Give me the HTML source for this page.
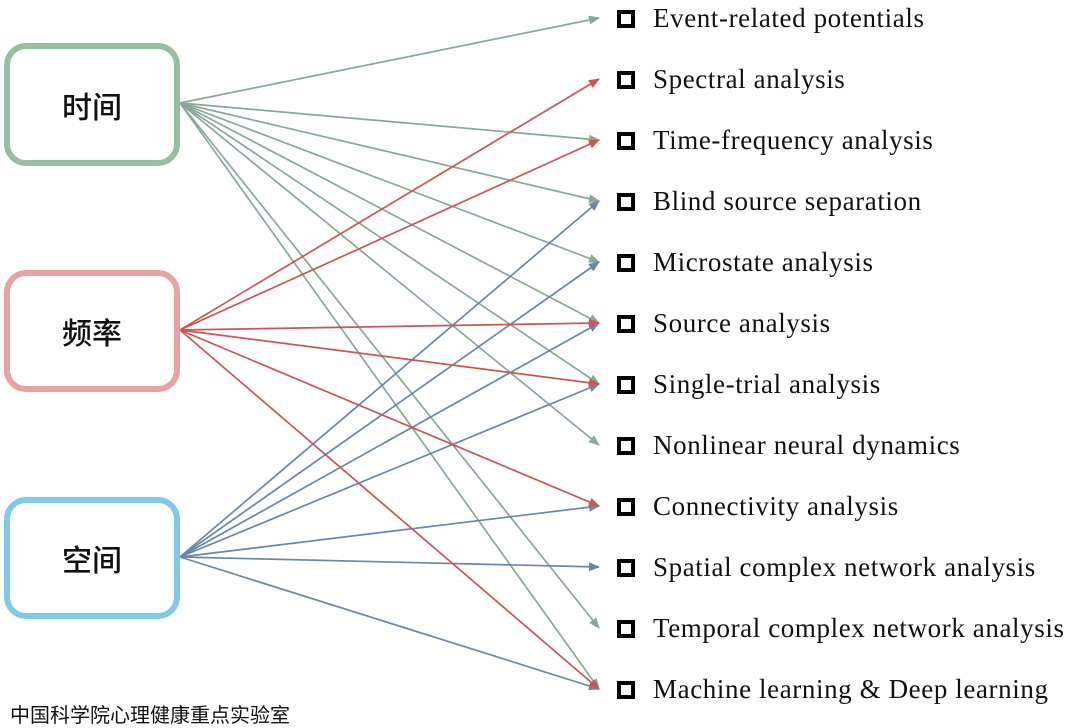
<!DOCTYPE html>
<html><head><meta charset="utf-8"><style>
body{margin:0;background:#fff;width:1071px;height:708px;overflow:hidden;position:relative;font-family:"Liberation Sans","Noto Sans CJK SC",sans-serif}
.box{position:absolute;left:4px;width:164px;border:6px solid;border-radius:22px;box-sizing:content-box;display:flex;align-items:center;justify-content:center;font-size:30px;font-weight:500;color:#111;background:#fff}
.item{position:absolute;left:617px;font-family:"Liberation Serif",serif;font-size:27px;letter-spacing:0.6px;color:#111;display:flex;align-items:center;white-space:nowrap}
.cb{width:10px;height:10px;border:4px solid #000;margin-right:18px}
svg{position:absolute;left:0;top:0}
</style></head><body>
<svg id="links" width="1071" height="708"></svg>
<div class="box" style="top:43px;height:111px;border-color:#96bfa2">时间</div>
<div class="box" style="top:270px;height:110px;border-color:#e8a2a3">频率</div>
<div class="box" style="top:497px;height:110px;border-color:#7fcbe6">空间</div>
<div id="items"></div>
<div style="position:absolute;left:10px;top:699px;font-size:20px;color:#111">中国科学院心理健康重点实验室</div>
<script>
const methods=["Event-related potentials","Spectral analysis","Time-frequency analysis","Blind source separation","Microstate analysis","Source analysis","Single-trial analysis","Nonlinear neural dynamics","Connectivity analysis","Spatial complex network analysis","Temporal complex network analysis","Machine learning & Deep learning"];
const timeLinks=[0,2,3,4,5,6,7,10,11];
const freqLinks=[1,2,5,6,8,11];
const spaceLinks=[3,4,5,6,8,9,11];
const rowY=i=>18+i*61.0;
const items=document.getElementById('items');
methods.forEach((m,i)=>{
 const d=document.createElement('div');
 d.className='item';
 
 
 d.style.top=(rowY(i)-15)+'px';
 d.innerHTML='<span class="cb"></span>'+m.replace('&','&amp;');
 items.appendChild(d);
});
const svg=document.getElementById('links');
const NS='http://www.w3.org/2000/svg';
const defs=document.createElementNS(NS,'defs');
const colors={g:'#8aa896',r:'#cc5555',b:'#6a86a8'};
Object.entries(colors).forEach(([k,c])=>{
 const mk=document.createElementNS(NS,'marker');
 mk.setAttribute('id','a'+k);mk.setAttribute('markerWidth','11');mk.setAttribute('markerHeight','9');
 mk.setAttribute('refX','10');mk.setAttribute('refY','4.5');mk.setAttribute('orient','auto');mk.setAttribute('markerUnits','userSpaceOnUse');
 const p=document.createElementNS(NS,'path');p.setAttribute('d','M0,0 L11,4.5 L0,9 z');p.setAttribute('fill',c);
 mk.appendChild(p);defs.appendChild(mk);
});
svg.appendChild(defs);
function draw(list,sy,k){
 list.forEach(i=>{
  const l=document.createElementNS(NS,'line');
  
  
  l.setAttribute('x1',180);l.setAttribute('y1',sy);
  l.setAttribute('x2',599);l.setAttribute('y2',rowY(i));
  l.setAttribute('stroke',colors[k]);l.setAttribute('stroke-width','1.7');
  l.setAttribute('marker-end','url(#a'+k+')');
  svg.appendChild(l);
 });
}
draw(timeLinks,103,'g');
draw(spaceLinks,557,'b');
draw(freqLinks,330,'r');
</script>
</body></html>
